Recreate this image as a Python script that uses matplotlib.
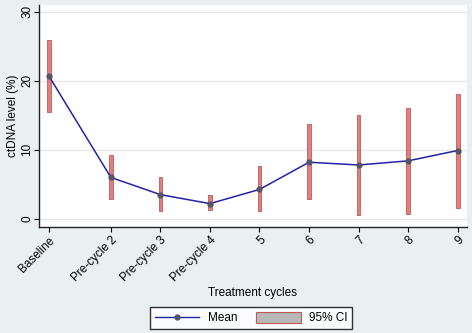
import matplotlib
matplotlib.use("Agg")
import matplotlib.pyplot as plt
from matplotlib.patches import Patch
from matplotlib.lines import Line2D

plt.rcParams['font.family'] = ['Liberation Sans', 'DejaVu Sans']

categories = ["Baseline", "Pre-cycle 2", "Pre-cycle 3", "Pre-cycle 4", "5", "6", "7", "8", "9"]
x_pos = [0.0, 1.25, 2.25, 3.25, 4.25, 5.25, 6.25, 7.25, 8.25]
mean_vals = [20.7, 6.0, 3.5, 2.2, 4.25, 8.2, 7.8, 8.4, 9.9]
ci_low = [15.5, 2.9, 1.1, 1.2, 1.1, 2.9, 0.5, 0.7, 1.55]
ci_high = [25.9, 9.2, 6.0, 3.4, 7.6, 13.7, 15.1, 16.0, 18.1]
yticks = [0, 10, 20, 30]

bg = '#eaf0f2'
fig = plt.figure(figsize=(4.72, 3.33), dpi=100, facecolor=bg)
ax = fig.add_axes([0.0826, 0.319, 0.906, 0.666])
ax.set_facecolor('white')

for xi, lo, hi in zip(x_pos, ci_low, ci_high):
    ax.bar(xi, hi - lo, bottom=lo, width=0.075, color='#e0807e', edgecolor='#c05a58',
           linewidth=0.6, zorder=2)
ax.plot(x_pos, mean_vals, color='#2323a8', linewidth=1.1, marker='o', markersize=3.5,
        markerfacecolor='#555566', markeredgecolor='#555566', zorder=3)

ax.set_xlim(-0.2, 8.43)
ax.set_ylim(-1.16, 31.0)
ax.set_yticks(yticks)
ax.set_yticklabels([str(t) for t in yticks], rotation=90, va='center', fontsize=8.5)
ax.yaxis.grid(True, color='#e4e6e8', linewidth=0.9, zorder=0)
ax.set_axisbelow(True)
ax.set_xticks(x_pos)
ax.set_xticklabels(categories, rotation=45, ha='right', rotation_mode='anchor', fontsize=8.5)
ax.tick_params(axis='both', length=3.5, width=0.8, colors='black')
ax.tick_params(axis='x', pad=2)
ax.tick_params(axis='y', pad=0.5)
for s in ['top', 'right']:
    ax.spines[s].set_visible(False)
for s in ['left', 'bottom']:
    ax.spines[s].set_color('#222222')
    ax.spines[s].set_linewidth(1.0)

ax.set_ylabel('ctDNA level (%)', fontsize=8.5, labelpad=1.5)
fig.text(0.536, 0.12, 'Treatment cycles', ha='center', va='center', fontsize=8.5)

handles = [
    Line2D([0], [0], color='#2323a8', linewidth=1.0, marker='o', markersize=3.5,
           markerfacecolor='#555566', markeredgecolor='#555566'),
    Patch(facecolor='#b8b8b8', edgecolor='#c05a58', linewidth=0.8),
]
leg = fig.legend(handles, ['Mean', '95% CI'], loc='center', bbox_to_anchor=(0.532, 0.045),
                 ncol=2, frameon=True, fancybox=False, fontsize=8.5, handlelength=3.8,
                 handleheight=1.1, columnspacing=1.6, borderpad=0.4, handletextpad=0.7)
leg.get_frame().set_edgecolor('black')
leg.get_frame().set_linewidth(1.0)

fig.savefig('out.png', dpi=100, facecolor=bg)
